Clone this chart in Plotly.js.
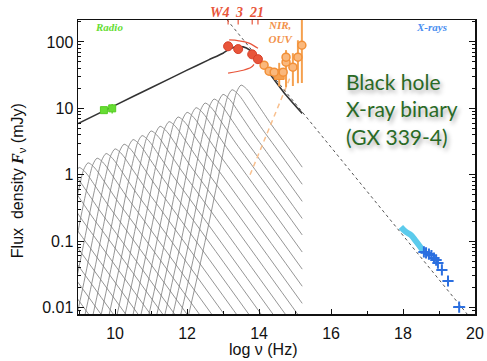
<!DOCTYPE html>
<html><head><meta charset="utf-8">
<script src="https://cdn.plot.ly/plotly-3.0.1.min.js"></script>
<style>html,body{margin:0;padding:0;background:#fff}</style>
</head><body>
<div id="chart" style="width:487px;height:361px"></div>
<script>
// ---- data (log10 frequency in Hz, flux density in mJy) ----
const radioLogNu = [9.69, 9.92];
const radioFlux = [9.4, 10.0];
const radioErr = [0.6, 1.6];

const wiseLogNu = [13.14, 13.42, 13.81, 13.97];
const wiseFlux = [86, 78, 65, 55];
const wiseLabels = ['W4', '3', '21'];
const wiseLabelNu = [12.9, 13.45, 13.93];

const wiseUpperNu = [13.17, 13.44, 13.72, 13.97];
const wiseUpperFlux = [107, 104, 96, 80];
const wiseLowerNu = [13.14, 13.56, 13.78, 13.86];
const wiseLowerFlux = [34, 37.5, 41.5, 46];

const oirLogNu = [14.14, 14.28, 14.42, 14.67, 14.75, 14.75, 14.94, 15.08, 15.19];
const oirFlux = [44.7, 36.3, 35.1, 35.1, 49.5, 58.9, 41.7, 58.9, 89.1];
const oirErrPlus = [0, 0, 0, 0, 25, 16, 26, 47, 160];
const oirErrMinus = [0, 0, 0, 0, 28, 38, 20, 35, 65];
const oirSqNu = [14.56];
const oirSqFlux = [32.4];
const oirSqErrPlus = [16];
const oirSqErrMinus = [11];

const starLogNu = [13.75, 14.85];
const starFlux = [1.0, 28];

const xSoftLogNu = [17.94, 18.08, 18.22, 18.33, 18.44, 18.58];
const xSoftFlux = [0.164, 0.138, 0.124, 0.105, 0.088, 0.069];
const xHardLogNu = [18.58, 18.64, 18.72, 18.79, 18.86, 18.92, 18.97, 19.08, 19.25];
const xHardFlux = [0.069, 0.067, 0.064, 0.061, 0.056, 0.052, 0.047, 0.037, 0.0252];
const xLastLogNu = [19.56];
const xLastFlux = [0.0102];
const xLastErr = [0.17];

const modelLogNu = [8.97, 10, 11, 12, 12.6, 13.0, 13.2, 13.45, 13.65, 13.85, 14.05, 14.3, 14.7, 15.2];
const modelFlux = [5.9, 11.1, 20.4, 37.6, 53.7, 67.6, 79.4, 85.1, 81.3, 67.6, 50.1, 33.1, 17.1, 8.4];

const thinLogNu = [13.0, 19.8];
const thinFlux = [255, 0.0078];

// component (zone) spectra: peak positions and a common spectral shape
const humpPeakNu = [6.75,7.0,7.25,7.5,7.75,8.0,8.25,8.5,8.75,9.0,9.25,9.5,9.75,10.0,10.25,10.5,10.75,11.0,11.25,11.5,11.75,12.0,12.25,12.5,12.75,13.0,13.25,13.5];
const humpPeakLogF = [-0.51,-0.44,-0.37,-0.30,-0.23,-0.16,-0.09,-0.02,0.04,0.11,0.18,0.25,0.32,0.39,0.46,0.53,0.59,0.66,0.73,0.80,0.87,0.94,1.01,1.08,1.14,1.21,1.28,1.35];
const humpShapeDx = [-2.4,-2.0,-1.6,-1.2,-0.9,-0.6,-0.4,-0.25,-0.12,0,0.12,0.25,0.4,0.6,0.85,1.2];
const humpShapeDy = [-5.8,-4.8,-3.8,-2.85,-2.1,-1.3,-0.75,-0.38,-0.1,0,-0.04,-0.12,-0.24,-0.4,-0.6,-0.86];
const thinSlope = -0.75;
const cutoffLogNu = 15.2;

// ---- build hatched component curves ----
const hx = [], hy = [];
humpPeakNu.forEach((p, i) => {
  const f0 = humpPeakLogF[i];
  let lastX = null, lastY = null;
  for (let k = 0; k < humpShapeDx.length; k++) {
    const x = p + humpShapeDx[k];
    if (x > cutoffLogNu) break;
    lastX = x; lastY = f0 + humpShapeDy[k];
    hx.push(x); hy.push(Math.pow(10, lastY));
  }
  if (lastX < cutoffLogNu) {
    hx.push(cutoffLogNu);
    hy.push(Math.pow(10, lastY + thinSlope * (cutoffLogNu - lastX)));
  }
  hx.push(null); hy.push(null);
});

const red = '#e8553a', orange = '#f29038', green = '#66dd33', blue = '#2b6fe0', cyan = '#5ccbec';

const traces = [
  {x: hx, y: hy, mode: 'lines', line: {color: '#7a7a7a', width: 0.8, shape: 'spline', smoothing: 0.8}, hoverinfo: 'skip'},
  {x: starLogNu, y: starFlux, mode: 'lines', line: {color: '#f9c08e', width: 1.5, dash: '5px,4px'}},
  {x: thinLogNu, y: thinFlux, mode: 'lines', line: {color: '#555', width: 1, dash: 'dot'}},
  {x: modelLogNu, y: modelFlux, mode: 'lines', line: {color: '#333', width: 1.6, shape: 'spline', smoothing: 0.6}},
  {x: wiseUpperNu, y: wiseUpperFlux, mode: 'lines', line: {color: red, width: 1.2, shape: 'spline'}},
  {x: wiseLowerNu, y: wiseLowerFlux, mode: 'lines', line: {color: red, width: 1.2, shape: 'spline'}},
  {x: oirSqNu, y: oirSqFlux, mode: 'markers', marker: {symbol: 'square', size: 10, color: '#f5a04e', line: {color: orange, width: 1}},
   error_y: {type: 'data', symmetric: false, array: oirSqErrPlus, arrayminus: oirSqErrMinus, color: '#f5a04e', thickness: 2, width: 0}},
  {x: oirLogNu, y: oirFlux, mode: 'markers', marker: {symbol: 'circle', size: 8, color: '#fab87c', line: {color: orange, width: 1.5}},
   error_y: {type: 'data', symmetric: false, array: oirErrPlus, arrayminus: oirErrMinus, color: '#f5a04e', thickness: 2, width: 0}},
  {x: wiseLogNu, y: wiseFlux, mode: 'markers', marker: {symbol: 'circle', size: 9, color: red, line: {color: '#d8402a', width: 1}}},
  {x: radioLogNu, y: radioFlux, mode: 'markers', marker: {symbol: 'square', size: 7, color: green, line: {color: '#55cc22', width: 1}},
   error_y: {type: 'data', array: radioErr, color: green, thickness: 1.5, width: 0}},
  {x: xSoftLogNu, y: xSoftFlux, mode: 'lines', line: {color: cyan, width: 6, shape: 'spline'}},
  {x: xHardLogNu, y: xHardFlux, mode: 'markers', marker: {symbol: 'cross-thin-open', size: 8, color: blue, line: {color: blue, width: 2}}},
  {x: xLastLogNu, y: xLastFlux, mode: 'markers', marker: {symbol: 'cross-thin-open', size: 8, color: blue, line: {color: blue, width: 2}},
   error_x: {type: 'data', array: xLastErr, color: blue, thickness: 1.5, width: 0}}
];

const italic = 'Liberation Serif, Times New Roman, serif';
const annotations = [
  {x: 9.83, y: 2.22, text: '<b><i>Radio</i></b>', font: {family: italic, size: 11, color: green}},
  {x: 18.8, y: 2.22, text: '<b><i>X-rays</i></b>', font: {family: italic, size: 11, color: '#4a8ef0'}},
  {x: 14.6, y: 2.145, text: '<b><i>NIR,<br>OUV</i></b>', font: {family: italic, size: 11, color: '#f2924a'}},
  {x: 16.36, y: 0.99, xanchor: 'left', align: 'left', text: 'Black hole<br>X-ray binary<br>(GX 339-4)',
   font: {family: 'Lato, Open Sans, sans-serif', size: 21, color: '#2a6a26', shadow: '2px 3px 4px rgba(0,0,0,0.35)'}},
  {xref: 'paper', yref: 'paper', x: 0.466, y: -0.122, xanchor: 'center', yanchor: 'middle', text: 'log ν (Hz)', font: {size: 16, color: '#111'}},
  {xref: 'paper', yref: 'paper', x: -0.151, y: 0.452, xanchor: 'center', yanchor: 'middle', textangle: -90,
   text: 'Flux  density <b><i><span style="font-family:Liberation Serif">F</span></i></b><sub>ν</sub> (mJy)', font: {size: 16, color: '#111'}}
];
wiseLabels.forEach((t, i) => annotations.push({x: wiseLabelNu[i], xref: 'x', yref: 'paper', y: 1.024, yanchor: 'middle',
  text: '<b><i>' + t + '</i></b>', font: {family: italic, size: 14, color: red}}));
annotations.forEach(a => { a.showarrow = false; });

const shapes = wiseLogNu.map(v => ({type: 'line', xref: 'x', yref: 'paper', x0: v, x1: v, y0: 1, y1: 0.985, line: {color: red, width: 1.2}}));

const layout = {
  width: 487, height: 361,
  margin: {l: 78, r: 12, t: 20, b: 47},
  paper_bgcolor: '#fff', plot_bgcolor: '#fff',
  showlegend: false,
  font: {family: 'Liberation Sans, Arial, sans-serif', color: '#111'},
  xaxis: {range: [8.97, 20], tick0: 10, dtick: 2, ticks: 'inside', ticklen: 5, tickwidth: 1, tickcolor: '#111',
    minor: {dtick: 1, ticks: 'inside', ticklen: 3, tickcolor: '#111'}, ticklabelstandoff: 4,
    showline: true, linecolor: '#111', linewidth: 1.5, mirror: true, showgrid: false, zeroline: false,
    tickfont: {size: 16}},
  yaxis: {type: 'log', range: [-2.095, 2.33], tickvals: [0.01, 0.1, 1, 10, 100], ticktext: ['0.01', '0.1', '1', '10', '100'],
    ticks: 'inside', ticklen: 6, tickwidth: 1, tickcolor: '#111',
    minor: {dtick: 'D1', ticks: 'inside', ticklen: 3, tickcolor: '#111'},
    showline: true, linecolor: '#111', linewidth: 1.5, mirror: 'ticks', showgrid: false, zeroline: false,
    tickfont: {size: 16}},
  annotations: annotations,
  shapes: shapes
};

Plotly.newPlot('chart', traces, layout, {displayModeBar: false, staticPlot: true});
</script>
</body></html>
